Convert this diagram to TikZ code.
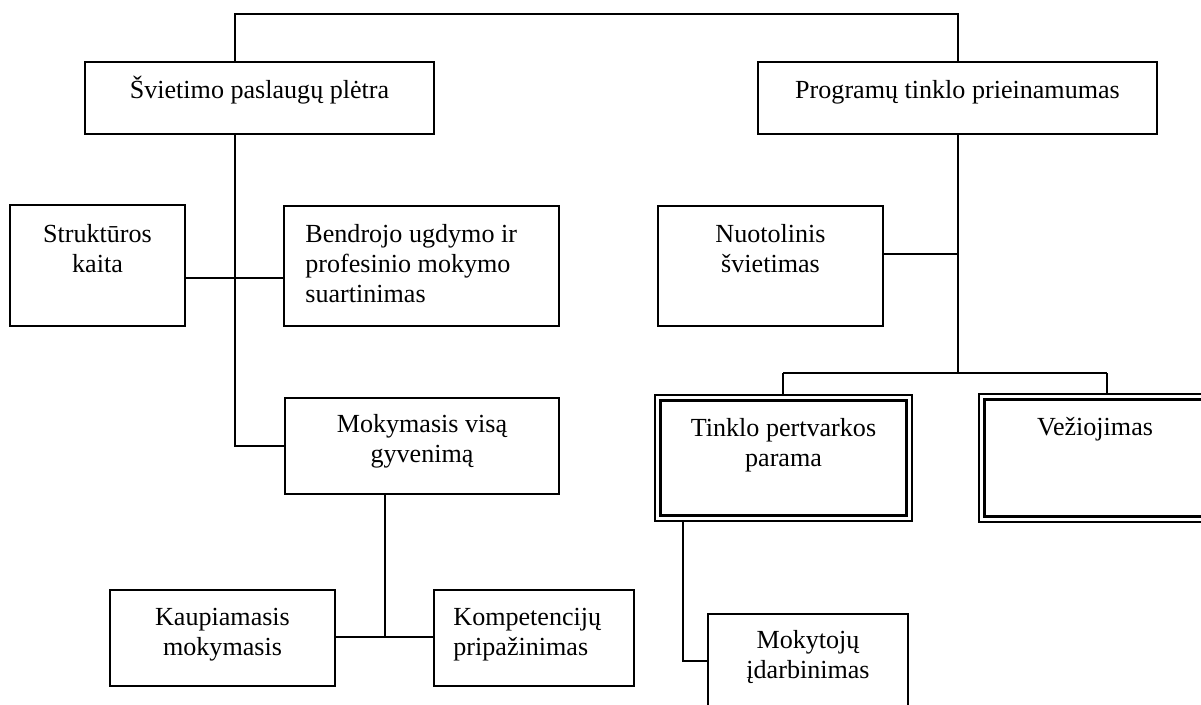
\documentclass[tikz,border=0pt]{standalone}
\usepackage{fontspec}
\setmainfont{Liberation Serif}
\newcommand\mkbox[6]{\node[#6, minimum width={(#4-#2)*0.46pt}, minimum height={(#5-#3)*0.46pt}] (#1) at ({(#2+#4)/2},{(#3+#5)/2}) {};}
\newcommand\ctxt[4]{\node[txt, anchor=north] (#1) at ([yshift={-(#3*0.46pt-11.5pt)}]#2.north) {\rule{0pt}{11.5pt}#4};}
\newcommand\ltxt[5]{\node[txt, align=left, anchor=north west] (#1) at ([xshift={#4*0.46pt}, yshift={-(#3*0.46pt-11.5pt)}]#2.north west) {\rule{0pt}{11.5pt}#5};}
\begin{document}
\begin{tikzpicture}[x=0.46pt,y=-0.46pt,
  box/.style={draw, line width=0.7pt, inner sep=0pt, outer sep=0pt},
  outerbox/.style={draw, line width=0.6pt, inner sep=0pt, outer sep=0pt},
  txt/.style={inner sep=0pt, font=\fontsize{12}{13.8}\selectfont, align=center},
  conn/.style={line width=0.7pt},
  thinconn/.style={line width=0.5pt}]
\useasboundingbox (0,0) rectangle (1201,705);
\clip (0,0) rectangle (1201,705);
% boxes
\mkbox{sv}{85}{62}{434}{134}{box}
\mkbox{pg}{758}{62}{1157}{134}{box}
\mkbox{st}{10}{205}{185}{326}{box}
\mkbox{bd}{284}{206}{559}{326}{box}
\mkbox{mk}{285}{398}{559}{494}{box}
\mkbox{kp}{110}{590}{335}{686}{box}
\mkbox{ko}{434}{590}{634}{686}{box}
\mkbox{np}{658}{206}{883}{326}{box}
\mkbox{tp}{655}{395}{912}{521}{outerbox}
\mkbox{vz}{979}{394}{1211}{522}{outerbox}
\mkbox{mt}{708}{614}{908}{714}{box}
% inner lines of the double boxes
\draw[line width=1pt] ([shift={(2.5pt,-2.5pt)}]tp.north west) rectangle ([shift={(-2.5pt,2.5pt)}]tp.south east);
\draw[line width=1pt] ([shift={(2.5pt,-2.5pt)}]vz.north west) rectangle ([shift={(-2.5pt,2.5pt)}]vz.south east);
% texts
\ctxt{svt}{sv}{36}{Švietimo paslaugų plėtra}
\ctxt{pgt}{pg}{36}{Programų tinklo prieinamumas}
\ctxt{stt}{st}{37}{Struktūros\\kaita}
\ltxt{bdt}{bd}{36}{21}{Bendrojo ugdymo ir\\profesinio mokymo\\suartinimas}
\ctxt{mkt}{mk}{34}{Mokymasis visą\\gyvenimą}
\ctxt{kpt}{kp}{35}{Kaupiamasis\\mokymasis}
\ltxt{kot}{ko}{35}{19}{Kompetencijų\\pripažinimas}
\ctxt{npt}{np}{36}{Nuotolinis\\švietimas}
\ctxt{tpt}{tp}{41}{Tinklo pertvarkos\\parama}
\ctxt{vzt}{vz}{41}{Vežiojimas}
\ctxt{mtt}{mt}{34}{Mokytojų\\įdarbinimas}
% junction points
\coordinate (tl) at (235,14);
\coordinate (tr) at (958,14);
\coordinate (sb) at (235,278);
\coordinate (kk) at (385,637);
\coordinate (nj) at (958,254);
\coordinate (rj) at (958,373);
\coordinate (ta) at (783,373);
\coordinate (tb) at (1107,373);
\coordinate (mj) at (683,661);
% connectors
\draw[conn] (sv.north -| tl) -- (tl) -- (tr) -- (pg.north -| tr);
\draw[conn] (sv.south -| tl) |- (mk.west);
\draw[conn] (st.east |- sb) -- (bd.west |- sb);
\draw[thinconn] (mk.south -| kk) -- (kk);
\draw[conn] (kp.east |- kk) -- (ko.west |- kk);
\draw[conn] (pg.south -| rj) -- (rj);
\draw[conn] (np.east |- nj) -- (nj);
\draw[conn] (ta) -- (tb);
\draw[thinconn] (ta) -- (tp.north -| ta);
\draw[thinconn] (tb) -- (vz.north -| tb);
\draw[thinconn] (tp.south -| mj) |- (mt.west |- mj);
\end{tikzpicture}
\end{document}
